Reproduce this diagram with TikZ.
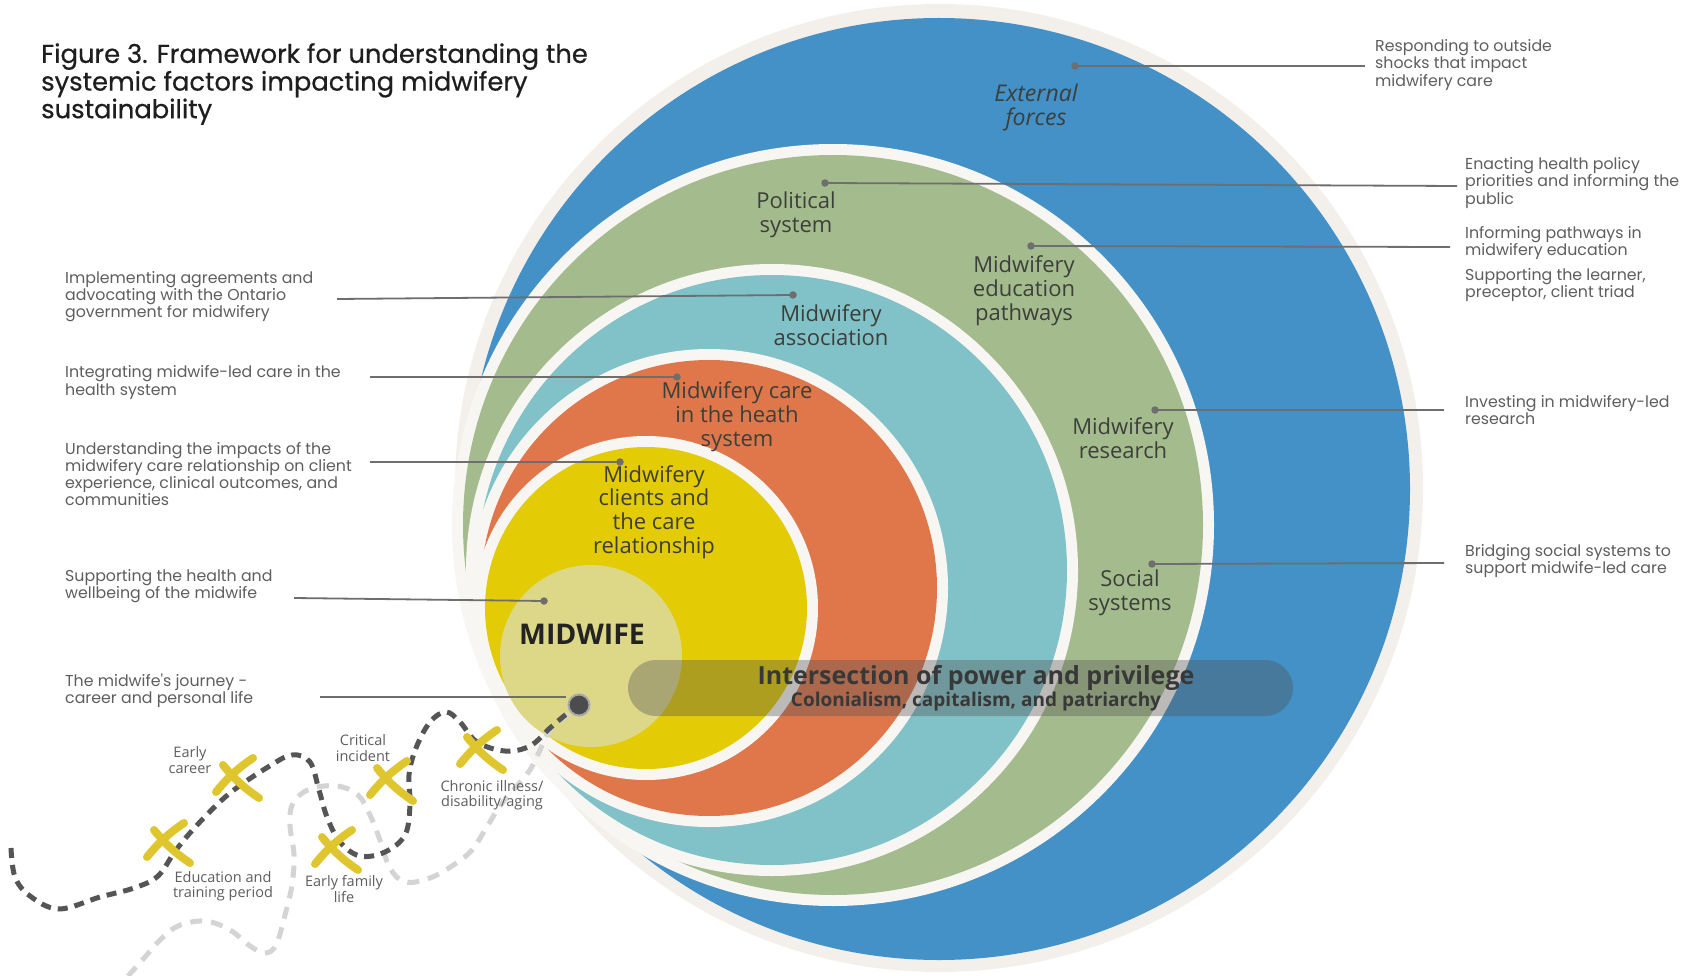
\documentclass[tikz,border=0pt]{standalone}
\usepackage{fontspec}
\setmainfont{Open Sans}
\newfontfamily\popfont{Poppins}
\newfontfamily\poptitle[FakeBold=0.5]{Poppins}
\usetikzlibrary{calc}

\definecolor{beigeC}{HTML}{F3EFEB}
\definecolor{sepC}{HTML}{F8F6F3}
\definecolor{blueC}{HTML}{4391C7}
\definecolor{greenC}{HTML}{A4BC8D}
\definecolor{tealC}{HTML}{80C2C8}
\definecolor{orangeC}{HTML}{DF774A}
\definecolor{yellowC}{HTML}{E3CB06}
\definecolor{lightC}{HTML}{DDD788}
\definecolor{ringtxt}{HTML}{3C3F3A}
\definecolor{annotC}{HTML}{5E5E5E}
\definecolor{titleC}{HTML}{1E1E1E}
\definecolor{leadC}{HTML}{6E6E6E}
\definecolor{bandC}{HTML}{505050}
\definecolor{bandtxt}{HTML}{383838}
\definecolor{pathdark}{HTML}{555555}
\definecolor{pathlight}{HTML}{D4D4D4}
\definecolor{markC}{HTML}{E0C62E}

\tikzset{
  annot/.style={font=\popfont\fontsize{15.8}{17.3}\selectfont, text=annotC,
    align=left, inner sep=0pt, anchor=west},
  ringlabel/.style={font=\fontsize{22}{23.8}\selectfont, text=ringtxt,
    align=center, inner sep=0pt},
  journeylabel/.style={font=\fontsize{14.5}{15.5}\selectfont, text=annotC,
    align=center, inner sep=0pt},
  leader/.style={draw=leadC, line width=1.8pt},
  ldot/.style={circle, fill=leadC, inner sep=0pt, minimum size=7.5pt},
  darkpath/.style={draw=pathdark, line width=5pt, dash pattern=on 10pt off 7pt},
  lightpath/.style={draw=pathlight, line width=5pt, dash pattern=on 12pt off 9pt},
  xstroke/.style={draw=markC, line width=8pt, line cap=round},
  journeydot/.style={circle, fill=pathdark!90!black, draw=leadC!60, line width=2pt,
    minimum size=21pt, inner sep=0pt},
}

% hand-drawn cross marking a life event
\newcommand{\lifemark}[1]{%
  \draw[xstroke] ($(#1)+(-18,17)$) to[bend left=8] ($(#1)+(19,-17)$);
  \draw[xstroke] ($(#1)+(-11,-10)$) to[bend right=8] ($(#1)+(25,23)$);
}

\begin{document}
\begin{tikzpicture}[x=1pt,y=-1pt]
\useasboundingbox (0,0) rectangle (1692,976);
\fill[white] (0,0) rectangle (1692,976);

% ---- nested discs, each with a light separating halo ----
\fill[beigeC] (939,488) circle[radius=484pt];
\fill[blueC] (939,489) circle[radius=471pt];
\fill[sepC] (833,525) circle[radius=381pt];
\fill[greenC] (833,525) circle[radius=370pt];
\fill[sepC] (772,570) circle[radius=306pt];
\fill[tealC] (772,570) circle[radius=295pt];
\fill[sepC] (709,588) circle[radius=239pt];
\fill[orangeC] (709,588) circle[radius=228pt];
\fill[sepC] (646,608) circle[radius=172pt];
\fill[yellowC] (646,608) circle[radius=161pt];
\fill[lightC] (591,656) circle[radius=91pt];

% ---- translucent band across the rings ----
\node[fill=bandC, fill opacity=0.36, rounded corners=28pt, minimum width=665pt,
      minimum height=56pt, inner sep=0pt] (band) at (960.5,688) {};
\node[font=\bfseries\fontsize{25}{28}\selectfont, text=bandtxt, inner sep=0pt]
  (bandtitle) at (976,678) {Intersection of power and privilege};
\node[font=\bfseries\fontsize{19}{22}\selectfont, text=bandtxt, inner sep=0pt]
  (bandsub) at (976,702) {Colonialism, capitalism, and patriarchy};

% ---- ring labels ----
\node[ringlabel, font=\itshape\fontsize{23}{24.5}\selectfont] (external) at (1036,107.5) {External\\forces};
\node[ringlabel] (political) at (796,214.5) {Political\\system};
\node[ringlabel] (education) at (1024,291) {Midwifery\\education\\pathways};
\node[ringlabel] (association) at (831,325.5) {Midwifery\\association};
\node[ringlabel] (caresys) at (737,417) {Midwifery care\\in the heath\\system};
\node[ringlabel] (research) at (1123,438.5) {Midwifery\\research};
\node[ringlabel] (clients) at (654,512) {Midwifery\\clients and\\the care\\relationship};
\node[ringlabel] (social) at (1130,593) {Social\\systems};
\node[ringlabel, font=\bfseries\fontsize{28.5}{30}\selectfont, text=titleC!85!ringtxt] (midwife) at (582,634) {MIDWIFE};

% ---- title ----
\node[font=\poptitle\fontsize{25.8}{26.2}\selectfont, text=titleC, align=left,
      inner sep=0pt, anchor=north west] (title) at (41,43)
  {Figure 3. Framework for understanding the\\systemic factors impacting midwifery\\sustainability};

% ---- right-hand annotations ----
\node[annot] (r1) at (1375,65) {Responding to outside\\shocks that impact\\midwifery care};
\node[annot] (r2) at (1465,183) {Enacting health policy\\priorities and informing the\\public};
\node[annot] (r3) at (1465,243) {Informing pathways in\\midwifery education};
\node[annot] (r4) at (1465,285) {Supporting the learner,\\preceptor, client triad};
\node[annot] (r5) at (1465,410) {Investing in midwifery-led\\research};
\node[annot] (r6) at (1465,561) {Bridging social systems to\\support midwife-led care};

% ---- left-hand annotations ----
\node[annot] (l1) at (65,296.5) {Implementing agreements and\\advocating with the Ontario\\government for midwifery};
\node[annot] (l2) at (65,382.5) {Integrating midwife-led care in the\\health system};
\node[annot] (l3) at (65,474) {Understanding the impacts of the\\midwifery care relationship on client\\experience, clinical outcomes, and\\communities};
\node[annot] (l4) at (65,586) {Supporting the health and\\wellbeing of the midwife};
\node[annot] (l5) at (65,690.5) {The midwife's journey -\\career and personal life};

% ---- leader lines ----
\coordinate (e1) at (1365,66);   \node[ldot] (d1) at (1075,66) {};
\coordinate (e2) at (1457,186);  \node[ldot] (d2) at (825,183) {};
\coordinate (e3) at (1450,247);  \node[ldot] (d3) at (1031,246) {};
\coordinate (e5) at (1444,410);  \node[ldot] (d5) at (1155,410) {};
\coordinate (e6) at (1444,563);  \node[ldot] (d6) at (1152,564) {};
\coordinate (s1) at (337,299);   \node[ldot] (c1) at (793,295) {};
\coordinate (s2) at (370,377);   \node[ldot] (c2) at (677,377) {};
\coordinate (s3) at (370,462);   \node[ldot] (c3) at (620,462) {};
\coordinate (s4) at (294,598);   \node[ldot] (c4) at (544,601) {};
\coordinate (s5) at (320,697);   \coordinate (t5) at (566,697);
\draw[leader] (d1.center) -- (e1);
\draw[leader] (d2.center) -- (e2);
\draw[leader] (d3.center) -- (e3);
\draw[leader] (d5.center) -- (e5);
\draw[leader] (d6.center) -- (e6);
\draw[leader] (s1) -- (c1.center);
\draw[leader] (s2) -- (c2.center);
\draw[leader] (s3) -- (c3.center);
\draw[leader] (s4) -- (c4.center);
\draw[leader] (s5) -- (t5);

% ---- the midwife's journey ----
\coordinate (now) at (579,705);

\draw[lightpath] plot[smooth, tension=0.6] coordinates {
  (128,976) (145,957) (160,940) (178,926) (205,921) (230,930) (250,946)
  (265,953) (276,945) (285,915) (292,885) (294,855) (290,825) (293,803)
  (310,789) (337,786) (358,795) (370,815) (380,840) (390,868) (405,882)
  (430,878) (455,864) (472,850) (485,830) (500,806) (516,787) (530,770)
  (540,750) (550,730) (566,716)} -- (now);

\draw[darkpath] plot[smooth, tension=0.6] coordinates {
  (11,848) (15,877) (30,896) (59,909) (100,897) (134,888) (158,876)
  (176,850) (199,823) (230,793) (268,767) (292,755) (310,762) (319,790)
  (327,817) (340,842) (360,856) (385,852) (405,835) (410,805) (409,775)
  (416,748) (430,722) (446,712) (460,722) (477,742) (505,751) (530,746)
  (550,728) (564,716)} -- (now);
\node[journeydot] (nowdot) at (now) {};

\coordinate (edu) at (165,840);
\coordinate (early) at (234,775);
\coordinate (family) at (333,847);
\coordinate (crit) at (388,778);
\coordinate (chronic) at (478,747);
\lifemark{edu}
\lifemark{early}
\lifemark{family}
\lifemark{crit}
\lifemark{chronic}

\node[journeylabel] (earlylab) at (190,760) {Early\\career};
\node[journeylabel] (critlab) at (363,748) {Critical\\incident};
\node[journeylabel] (chroniclab) at (492,795) {Chronic illness/\\disability/aging};
\node[journeylabel] (edulab) at (223,886) {Education and\\training period};
\node[journeylabel] (familylab) at (344,889) {Early family\\life};

\end{tikzpicture}
\end{document}
